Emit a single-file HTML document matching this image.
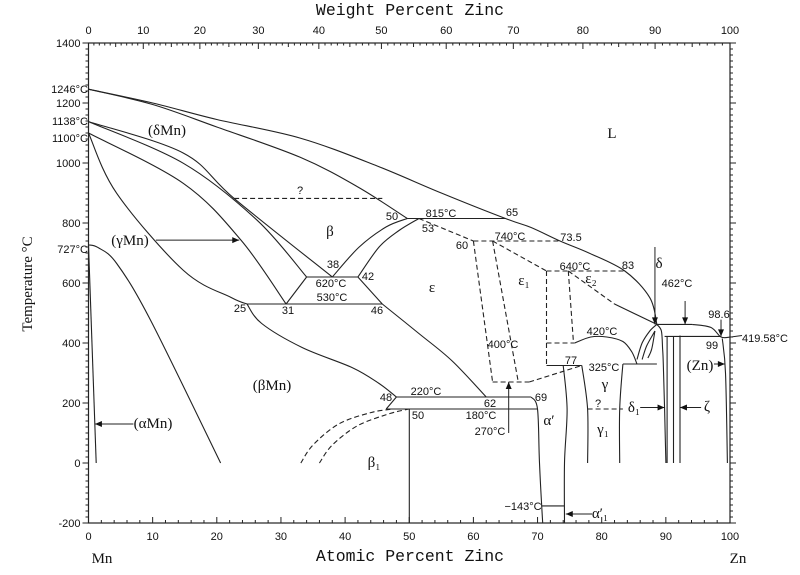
<!DOCTYPE html>
<html><head><meta charset="utf-8"><title>Mn-Zn phase diagram</title>
<style>
html,body{margin:0;padding:0;background:#fff;}
svg{display:block;}
.n{font-family:"Liberation Sans",sans-serif;font-size:11px;fill:#111;}
.g{font-family:"Liberation Serif",serif;font-size:15px;fill:#111;}
.t{font-family:"Liberation Mono",monospace;font-size:16.5px;fill:#111;}
</style></head>
<body>
<svg id="chart" width="800" height="575" viewBox="0 0 800 575">
<g id="axes"></g>
<g id="curves"></g>
<g id="labels"></g>
</svg>
<script>
// ---- data: [atomic % Zn, temperature °C] ----
const tempTicks = [1400,1200,1000,800,600,400,200,0,-200];
const atTicks = [0,10,20,30,40,50,60,70,80,90,100];
const wtTicks = [0,10,20,30,40,50,60,70,80,90,100];
const liquidus = [[0,1246],[10,1200],[20,1145],[33,1083],[45,990],[55,900],[65,815],[69,785],[73.5,740],[78,700],[83.6,640],[87.5,551],[88.6,462]];
const liquidusZn = [[94.1,462],[97,452],[98.6,420],[100,419.58]];
const solidus = [[0,1246],[10,1195],[20,1120],[33,1019],[42,920],[49.7,815]];
const deltaMnA = [[0,1138],[14.8,1033],[22.7,882],[38,620]];
const deltaMnB = [[0,1138],[14.8,999],[26.3,809],[34,620]];
const gammaC = [[0,1100],[14.8,932],[23.8,742],[30.8,530]];
const gammaD = [[0,1100],[4.4,899],[14.8,642],[22.2,552],[24.7,530]];
const betaMn727 = [[0,727],[1.5,718],[4.4,665],[9.7,475],[20.6,0]];
const alphaMn = [[0,727],[1.2,0]];
const beta38 = [[38,620],[42.2,720],[46.4,787],[49.7,815]];
const eps42 = [[42,620],[45.3,720],[48.4,775],[51.5,815]];
const eps42to46 = [[42,620],[45.8,530]];
const eps46to62 = [[45.8,530],[51.6,430],[56.7,340],[62,220]];
const betaMn25to48 = [[24.7,530],[27,465],[33.3,385],[41.1,318],[45.3,265],[48,220]];
const betaMn48b = [[48,220],[46.4,180]];
const line31 = [[30.8,530],[34,620]];
const iso815 = [[49.7,815],[65,815]];
const iso620 = [[34,620],[42,620]];
const iso530 = [[24.7,530],[45.8,530]];
const iso220 = [[48,220],[69,220]];
const iso180 = [[46.4,180],[70,180]];
const beta1Vert = [[50,180],[50,-200]];
const alphaPL = [[69,220],[70,180],[70.3,0],[70.8,-200]];
const alphaPR = [[74,325],[74.6,180],[74.2,0],[74.2,-200]];
const iso143 = [[70.6,-143],[74.2,-143]];
const gammaL = [[76.9,325],[77.8,180],[77.8,0]];
const gammaR = [[83.3,330],[82.8,180],[82.8,0]];
const iso325 = [[71.4,325],[76.9,325]];
const iso330 = [[83.3,330],[88.6,330]];
const dome420 = [[75.8,400],[78.3,420],[80.8,420],[83.3,405],[84.7,370],[85.5,330]];
const deltaLeft = [[88.6,462],[87.5,440],[86.3,400],[85.5,345]];
const deltaFan1 = [[88.3,440],[87,390],[86.3,345]];
const deltaFan2 = [[88.3,440],[87.8,380],[87.2,350]];
const deltaRight = [[88.6,462],[89.3,440],[89.5,380],[89.6,330],[89.8,180],[90,0]];
const zeta1 = [[90.2,420],[90.2,0]];
const zeta2 = [[91.2,420],[91.2,0]];
const zeta3 = [[92.2,425],[92.2,0]];
const iso462 = [[88.6,462],[94.1,462]];
const iso420 = [[89.8,422],[98.6,422]];
const znBound = [[98.8,415],[99.3,300],[99.6,0]];
const beta1Outer = [[33.1,0],[35,60],[39,130],[44,168],[47.5,180]];
const beta1Inner = [[36,0],[38,60],[42,125],[47,165],[50,180]];
const dashQ = [[22.7,882],[45.8,882]];
const dash53 = [[51.5,815],[60,740]];
const dash740 = [[60,740],[73.5,740]];
const dash60 = [[60,740],[63,270]];
const dash62 = [[63,740],[67,270]];
const dash270 = [[63,270],[68.7,270]];
const dash270b = [[68.7,270],[76.9,325]];
const dashDiag = [[63,740],[71.4,640]];
const dash640 = [[71.4,640],[83.6,640]];
const dashE1 = [[71.4,640],[71.4,325]];
const dashE2 = [[74.8,640],[75.6,400]];
const dash400 = [[71.4,400],[75.8,400]];
const dashE2diag = [[74.8,640],[82,530]];
const solidE2diag = [[82,530],[88.6,462]];
const dash180 = [[77.8,180],[83.3,180]];
const solidCurves = [liquidus,liquidusZn,solidus,deltaMnA,deltaMnB,gammaC,gammaD,betaMn727,alphaMn,beta38,eps42,eps42to46,eps46to62,betaMn25to48,betaMn48b,line31,iso815,iso620,iso530,iso220,iso180,beta1Vert,alphaPL,alphaPR,iso143,gammaL,gammaR,iso325,iso330,dome420,deltaLeft,deltaFan1,deltaFan2,deltaRight,zeta1,zeta2,zeta3,iso462,iso420,znBound,solidE2diag];
const dashedCurves = [beta1Outer,beta1Inner,dashQ,dash53,dash740,dash60,dash62,dash270,dash270b,dashDiag,dash640,dashE1,dashE2,dash400,dashE2diag,dash180];

// ---- scales ----
const X0=88.5, X1=730, Y0=43, Y1=523;
function sx(a){return X0+(X1-X0)*a/100;}
function sy(t){return Y0+(Y1-Y0)*(1400-t)/1600;}
function wt2at(w){if(w<=0)return 0;if(w>=100)return 100;const z=w/65.38,m=(100-w)/54.94;return 100*z/(z+m);}
const NS='http://www.w3.org/2000/svg';
function mk(tag,attrs,parent){const e=document.createElementNS(NS,tag);for(const k in attrs)e.setAttribute(k,attrs[k]);parent.appendChild(e);return e;}
const axes=document.getElementById('axes'), curves=document.getElementById('curves'), labels=document.getElementById('labels');

const frame=mk('rect',{x:X0,y:Y0,width:X1-X0,height:Y1-Y0,fill:'none',stroke:'#222','stroke-width':1.2},axes);


for(let t=-200;t<=1400;t+=20){
  const major=t%200===0, len=major?6:3;
  mk('line',{x1:X0-len,y1:sy(t),x2:X0,y2:sy(t),stroke:'#222','stroke-width':1},axes);
  mk('line',{x1:X1,y1:sy(t),x2:X1+len,y2:sy(t),stroke:'#222','stroke-width':1},axes);
}
tempTicks.forEach(t=>{const e=mk('text',{x:X0-8,y:sy(t)+4,'text-anchor':'end',class:'n'},labels);e.textContent=t;

});
for(let a=0;a<=100;a+=2){const major=a%10===0;
  mk('line',{x1:sx(a),y1:Y1,x2:sx(a),y2:Y1-(major?6:3),stroke:'#222','stroke-width':1},axes);}
atTicks.forEach(a=>{const e=mk('text',{x:sx(a),y:Y1+17,'text-anchor':'middle',class:'n'},labels);e.textContent=a;

});
for(let w=0;w<=100;w+=1){const major=w%10===0, mid=w%5===0;
  mk('line',{x1:sx(wt2at(w)),y1:Y0,x2:sx(wt2at(w)),y2:Y0+(major?6:mid?4:2.5),stroke:'#222','stroke-width':1},axes);}
wtTicks.forEach(w=>{const e=mk('text',{x:sx(wt2at(w)),y:Y0-9,'text-anchor':'middle',class:'n'},labels);e.textContent=w;

});

// smooth path (Catmull-Rom)
function path(pts){
  const P=pts.map(p=>[sx(p[0]),sy(p[1])]);
  let d='M'+P[0][0].toFixed(1)+','+P[0][1].toFixed(1);
  if(P.length<3){for(let i=1;i<P.length;i++)d+=' L'+P[i][0].toFixed(1)+','+P[i][1].toFixed(1);return d;}
  for(let i=0;i<P.length-1;i++){
    const p0=P[Math.max(0,i-1)],p1=P[i],p2=P[i+1],p3=P[Math.min(P.length-1,i+2)];
    const c1=[p1[0]+(p2[0]-p0[0])/6,p1[1]+(p2[1]-p0[1])/6];
    const c2=[p2[0]-(p3[0]-p1[0])/6,p2[1]-(p3[1]-p1[1])/6];
    d+=' C'+c1[0].toFixed(1)+','+c1[1].toFixed(1)+' '+c2[0].toFixed(1)+','+c2[1].toFixed(1)+' '+p2[0].toFixed(1)+','+p2[1].toFixed(1);
  }
  return d;
}
solidCurves.forEach(c=>{const e=mk('path',{d:path(c),fill:'none',stroke:'#222','stroke-width':1.1},curves);

});
dashedCurves.forEach(c=>{const e=mk('path',{d:path(c),fill:'none',stroke:'#222','stroke-width':1.1,'stroke-dasharray':'5,3'},curves);

});

const arrows=[[[10.5,743],[23.5,743]],[[7,130],[1,130]],[[88.3,720],[88.3,462]],[[93,540],[93,462]],[[98.6,478],[98.6,422]],[[86,185],[89.8,185]],[[95.5,185],[92.2,185]],[[97.5,330],[99.2,330]],[[65.5,100],[65.5,270]],[[78.5,-170],[74.4,-170]]];
arrows.forEach(a=>{const x1=sx(a[0][0]),y1=sy(a[0][1]),x2=sx(a[1][0]),y2=sy(a[1][1]);
  const e=mk('line',{x1:x1,y1:y1,x2:x2,y2:y2,stroke:'#222','stroke-width':1},curves);
  
  
  const ang=Math.atan2(y2-y1,x2-x1),L=7,W=3;
  const bx=x2-L*Math.cos(ang),by=y2-L*Math.sin(ang);
  mk('polygon',{points:`${x2},${y2} ${bx-W*Math.sin(ang)},${by+W*Math.cos(ang)} ${bx+W*Math.sin(ang)},${by-W*Math.cos(ang)}`,fill:'#111'},curves);
});
mk('line',{x1:sx(100),y1:sy(419.58),x2:742,y2:sy(425),stroke:'#222','stroke-width':1},curves);

const texts=[
['Weight Percent Zinc',410,15,'t','middle'],['Atomic Percent Zinc',410,561,'t','middle'],
['Mn',102,563,'g','middle'],['Zn',738,563,'g','middle'],
['1246°C',88,93,'n','end'],['1138°C',88,125,'n','end'],['1100°C',88,142,'n','end'],['727°C',88,253,'n','end'],
['L',612,138,'g','middle'],['(δMn)',167,135,'g','middle'],['β',330,236,'g','middle'],['ε',432,292,'g','middle'],
['(γMn)',130,245,'g','middle'],['(βMn)',272,390,'g','middle'],['(αMn)',153,428,'g','middle'],['β₁',374,467,'g','middle'],
['α′',549,425,'g','middle'],['α′₁',600,518,'g','middle'],['γ',605,389,'g','middle'],['γ₁',603,434,'g','middle'],
['δ₁',634,412,'g','middle'],['ζ',707,411,'g','middle'],['δ',659,268,'g','middle'],['ε₁',524,285,'g','middle'],['ε₂',591,283,'g','middle'],
['?',300,194,'n','middle'],['50',392,220,'n','middle'],['815°C',441,217,'n','middle'],['65',512,216,'n','middle'],['53',428,232,'n','middle'],
['60',462,249,'n','middle'],['740°C',510,240,'n','middle'],['73.5',571,241,'n','middle'],['640°C',575,270,'n','middle'],['83',628,269,'n','middle'],
['462°C',677,287,'n','middle'],['98.6',719,318,'n','middle'],['99',712,349,'n','middle'],['419.58°C',765,342,'n','middle'],
['38',333,268,'n','middle'],['620°C',331,287,'n','middle'],['42',368,280,'n','middle'],['530°C',332,301,'n','middle'],
['25',240,312,'n','middle'],['31',288,314,'n','middle'],['46',377,314,'n','middle'],
['400°C',503,348,'n','middle'],['420°C',602,335,'n','middle'],['77',571,364,'n','middle'],['325°C',604,371,'n','middle'],
['(Zn)',700,370,'g','middle'],['220°C',426,395,'n','middle'],['48',386,401,'n','middle'],['62',490,407,'n','middle'],
['69',541,401,'n','middle'],['50',418,419,'n','middle'],['180°C',481,419,'n','middle'],['270°C',490,435,'n','middle'],
['?',598,407,'n','middle'],['−143°C',523,510,'n','middle']];
texts.forEach(t=>{const e=mk('text',{x:t[1],y:t[2],class:t[3],'text-anchor':t[4]},labels);e.textContent=t[0];

});
const yt=mk('text',{x:0,y:0,class:'g','text-anchor':'middle',transform:'translate(32,284) rotate(-90)'},labels);
yt.textContent='Temperature °C';


</script>
</body></html>
